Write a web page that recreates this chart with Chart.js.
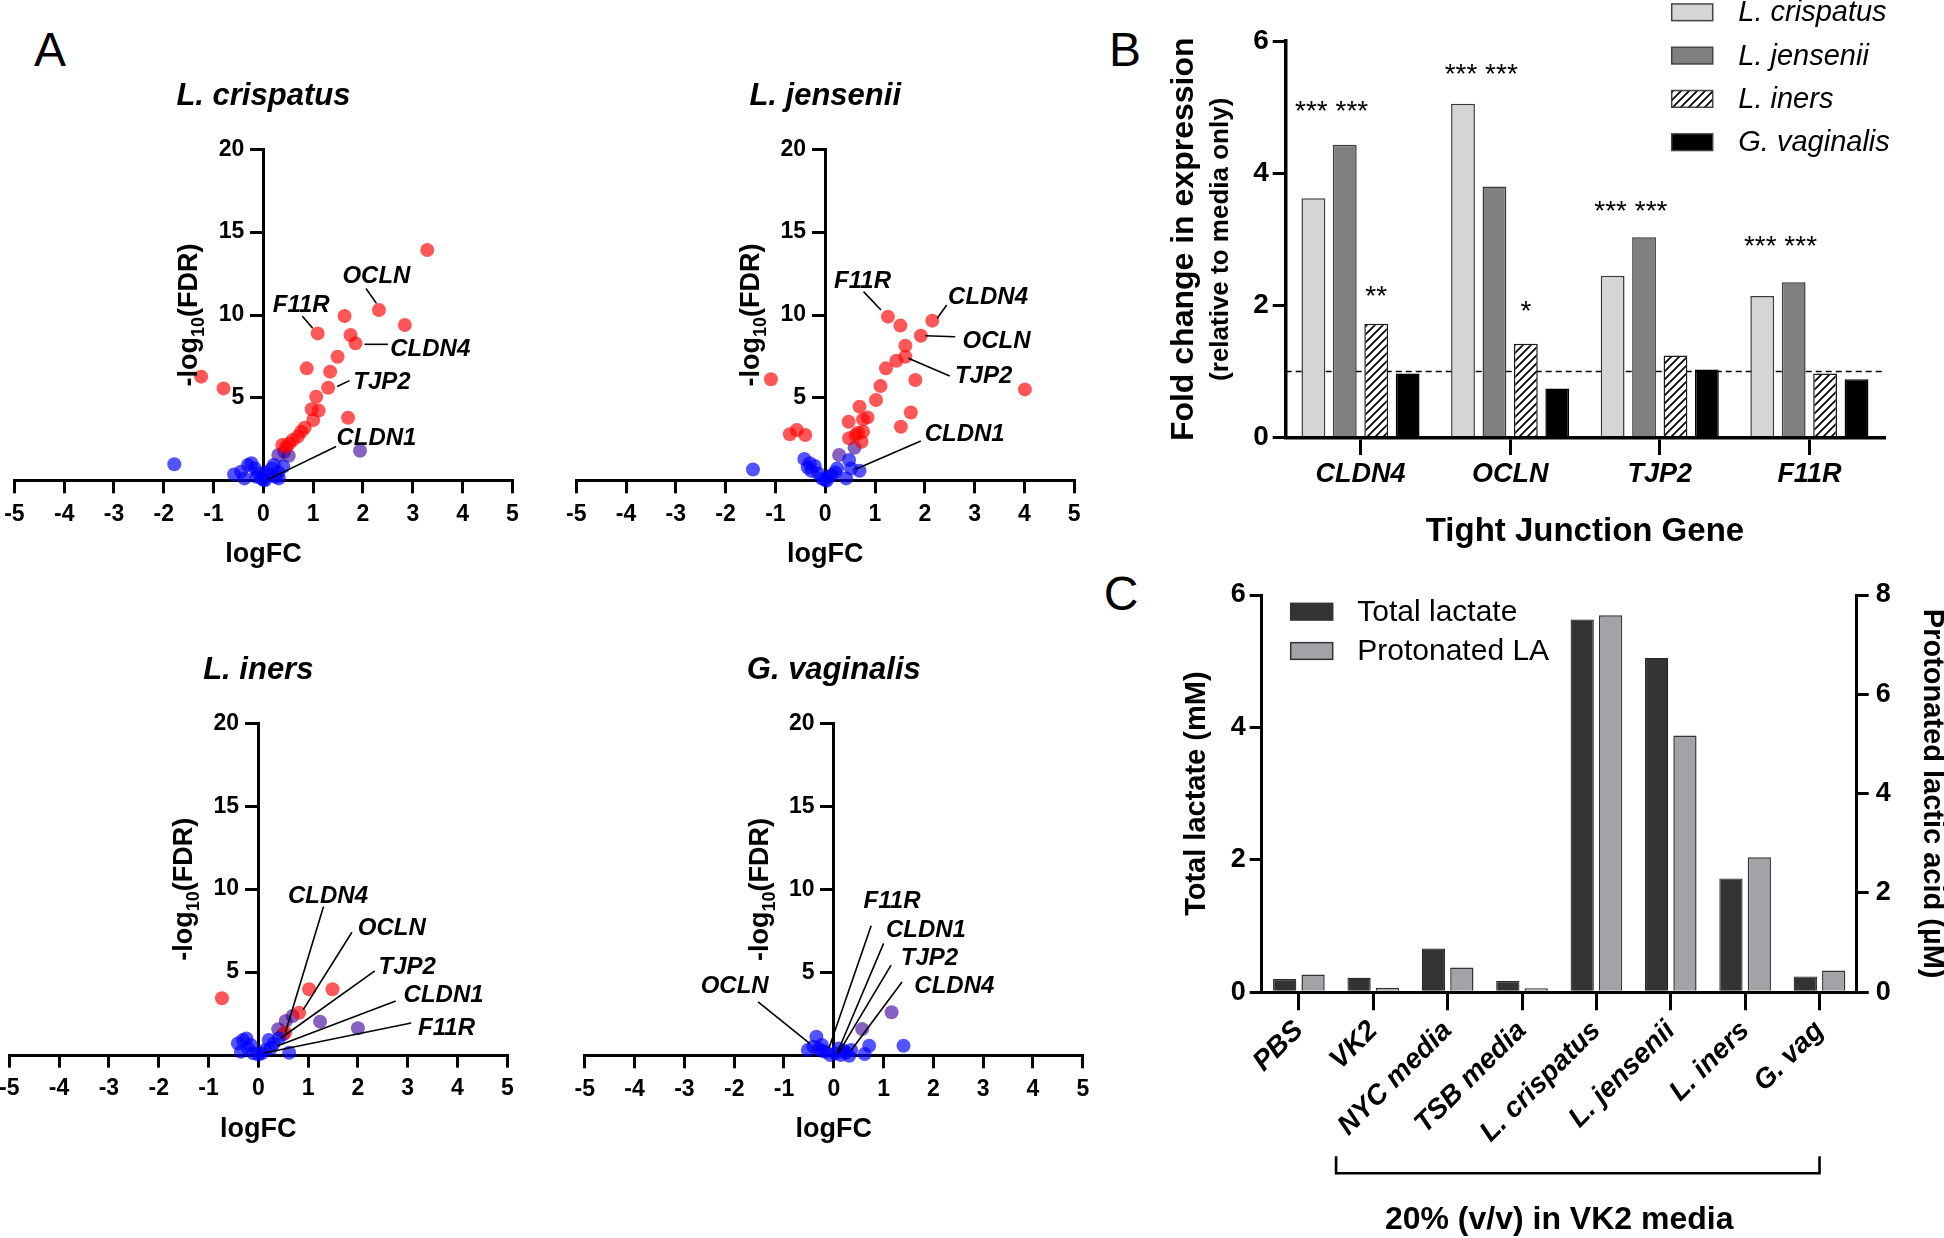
<!DOCTYPE html>
<html>
<head>
<meta charset="utf-8">
<script src="https://cdn.jsdelivr.net/npm/chart.js@4.4.1/dist/chart.umd.min.js"></script>
<style>
html,body{margin:0;padding:0;background:#fff;width:1944px;height:1238px;overflow:hidden;}
body{position:relative;font-family:'Liberation Sans',Arial,sans-serif;}
canvas{position:absolute;}
.plab{position:absolute;font-size:48px;line-height:1;transform:translate(-50%,-50%);color:#000;font-family:'Liberation Sans',Arial,sans-serif;}
</style>
</head>
<body>
<div class="plab" style="left:50px;top:50px">A</div>
<div class="plab" style="left:1125px;top:50px">B</div>
<div class="plab" style="left:1121px;top:594px">C</div>
<canvas id="v1"></canvas>
<canvas id="v2"></canvas>
<canvas id="v3"></canvas>
<canvas id="v4"></canvas>
<canvas id="cb"></canvas>
<canvas id="cc"></canvas>
<script>
// ---------------- DATA ----------------
// Panel A volcano plots: [logFC, -log10(FDR)]
const crispatusRed = [[3.29,13.92],[2.32,10.30],[1.63,9.94],[2.84,9.40],[1.09,8.89],[1.75,8.79],[1.85,8.29],[1.49,7.48],[0.87,6.78],[1.34,6.58],[1.30,5.61],[1.06,5.07],[0.97,4.31],[1.11,4.23],[1.00,3.66],[1.70,3.80],[0.83,3.20],[0.76,2.96],[0.69,2.66],[0.59,2.45],[0.52,2.25],[0.38,2.15],[0.46,2.05],[-1.25,6.28],[-0.80,5.57]];
const crispatusPurple = [[1.94,1.81],[0.30,1.55],[0.51,1.51],[0.42,1.75]];
const crispatusBlue = [[-1.79,0.99],[-0.59,0.38],[-0.38,0.14],[-0.31,0.95],[-0.24,1.05],[-0.17,0.74],[-0.10,0.44],[-0.03,0.14],[0.03,0.02],[0.10,0.34],[0.17,0.74],[0.24,0.24],[0.31,0.14],[0.40,0.85],[0.21,0.95],[-0.14,0.24],[0.00,0.05],[-0.45,0.54],[0.05,0.50],[0.30,0.50]];

const jenseniiRed = [[1.26,9.90],[1.51,9.36],[2.15,9.66],[1.92,8.75],[1.61,8.15],[1.61,7.48],[1.43,7.24],[1.22,6.78],[1.81,6.08],[1.11,5.71],[1.02,4.87],[4.01,5.51],[0.69,4.47],[1.72,4.12],[0.47,3.56],[0.76,3.70],[0.85,3.82],[1.52,3.26],[0.66,2.90],[0.76,2.96],[0.48,2.56],[0.61,2.76],[0.73,2.35],[-1.09,6.12],[-0.57,3.06],[-0.71,2.80],[-0.40,2.76]];
const jenseniiPurple = [[0.28,1.55],[0.59,1.99]];
const jenseniiBlue = [[-1.45,0.68],[-0.42,1.31],[-0.31,1.05],[-0.21,0.89],[-0.28,0.60],[-0.14,0.44],[-0.07,0.14],[0.03,0.00],[0.14,0.34],[0.24,0.74],[0.48,1.25],[0.52,0.74],[0.69,0.60],[0.42,0.14],[0.00,0.05],[0.07,0.24],[-0.35,0.80],[0.20,0.50]];

const inersRed = [[-0.73,3.42],[1.02,3.96],[1.49,3.96],[0.82,2.55],[0.54,1.35]];
const inersPurple = [[0.55,2.05],[0.69,2.35],[1.24,2.01],[2.00,1.61],[0.40,1.55],[0.50,1.25]];
const inersBlue = [[-0.31,0.90],[-0.24,1.00],[-0.35,0.20],[-0.21,0.40],[-0.10,0.10],[0.00,0.02],[0.07,0.10],[0.21,0.90],[0.31,0.70],[0.41,1.00],[0.62,0.14],[0.14,0.30],[-0.41,0.70],[0.25,0.40],[-0.15,0.60]];

const gvagRed = [];
const gvagPurple = [[1.16,2.61],[0.57,1.60]];
const gvagBlue = [[1.40,0.60],[0.71,0.60],[0.62,0.10],[-0.35,1.14],[-0.52,0.34],[-0.41,0.54],[-0.24,0.64],[-0.17,0.24],[-0.07,0.04],[0.03,0.14],[0.14,0.04],[0.24,0.18],[0.35,0.34],[0.31,0.00],[0.10,0.44],[-0.24,0.30],[0.20,0.30],[-0.30,0.40]];

// Gene callouts: [gene, textX, textY, lineX1, lineY1, lineX2, lineY2] in data units
const crispatusCallouts = [['OCLN',2.27,12.36,2.06,11.60,2.27,10.70],['F11R',0.76,10.57,0.78,9.94,0.99,9.20],['CLDN4',3.35,7.93,2.03,8.23,2.50,8.23],['TJP2',2.38,5.92,1.48,5.68,1.73,6.04],['CLDN1',2.27,2.56,1.46,2.06,0.10,0.08]];
const jenseniiCallouts = [['F11R',0.75,12.05,0.77,11.41,1.12,10.30],['CLDN4',3.27,11.06,2.25,9.80,2.44,10.60],['OCLN',3.44,8.39,2.01,8.75,2.61,8.69],['TJP2',3.18,6.28,1.67,7.39,2.50,6.32],['CLDN1',2.80,2.82,1.92,2.40,0.61,0.69]];
const inersCallouts = [['CLDN4',1.40,9.55,1.31,8.95,0.54,1.31],['OCLN',2.68,7.64,1.88,7.40,0.90,2.72],['TJP2',2.99,5.29,2.34,5.07,0.45,1.01],['CLDN1',3.72,3.62,2.76,3.26,0.38,0.55],['F11R',3.78,1.61,3.07,1.93,0.12,0.12]];
const gvagCallouts = [['OCLN',-1.99,4.15,-1.52,3.24,-0.48,0.73],['F11R',1.17,9.27,0.75,7.82,-0.10,0.44],['CLDN1',1.85,7.56,1.00,6.76,0.07,0.18],['TJP2',1.92,5.86,1.15,5.45,0.09,0.14],['CLDN4',2.42,4.15,1.37,4.44,0.35,0.33]];

const volcanoTitles = ['L. crispatus','L. jensenii','L. iners','G. vaginalis'];
const logFCTicks = [-5,-4,-3,-2,-1,0,1,2,3,4,5];

// Panel B
const genes = ['CLDN4','OCLN','TJP2','F11R'];
const speciesB = ['L. crispatus','L. jensenii','L. iners','G. vaginalis'];
const crispatusFC = [3.62,5.05,2.45,2.14];
const jenseniiFC = [4.43,3.80,3.03,2.35];
const inersFC = [1.72,1.42,1.24,0.97];
const gvagFC = [0.97,0.74,1.03,0.88];
const mediaOnlyLevel = 1;
// significance marks: [datasetIndices, geneIndex, text, height]
const starMarks = [[[0,1],0,'*** ***',5.05],[[2],0,'**',2.25],[[0,1],1,'*** ***',5.61],[[2],1,'*',2.03],[[0,1],2,'*** ***',3.54],[[0,1],3,'*** ***',3.01]];

// Panel C
const lactateGroups = ['PBS','VK2','NYC media','TSB media','L. crispatus','L. jensenii','L. iners','G. vag'];
const totalLactate = [0.20,0.22,0.66,0.17,5.63,5.05,1.72,0.24];      // mM
const protonatedLA = [0.36,0.09,0.50,0.08,7.59,5.17,2.72,0.44];      // µM

// ---------------- RENDER ----------------
const FF = "'Liberation Sans', Arial, sans-serif";
Chart.defaults.font.family = FF;
Chart.defaults.color = '#000';

const toPts = arr => arr.map(p => ({x:p[0], y:p[1]}));

const calloutPlugin = {
  id: 'callouts',
  afterDatasetsDraw(chart, args, opts) {
    if (!opts || !opts.items) return;
    const {ctx, scales:{x, y}} = chart;
    ctx.save();
    ctx.strokeStyle = '#000'; ctx.lineWidth = 1.6; ctx.fillStyle = '#000';
    ctx.font = 'italic bold 24px ' + FF;
    ctx.textAlign = 'center'; ctx.textBaseline = 'middle';
    for (const [name, tx, ty, x1, y1, x2, y2] of opts.items) {
      ctx.beginPath();
      ctx.moveTo(x.getPixelForValue(x1), y.getPixelForValue(y1));
      ctx.lineTo(x.getPixelForValue(x2), y.getPixelForValue(y2));
      ctx.stroke();
      ctx.fillText(name, x.getPixelForValue(tx), y.getPixelForValue(ty));
    }
    ctx.restore();
  }
};

const fdrTitlePlugin = {
  id: 'fdrTitle',
  afterDraw(chart, args, opts) {
    if (!opts || !opts.display) return;
    const {ctx, chartArea, scales:{x}} = chart;
    const cx = x.getPixelForValue(0) - opts.offset;
    const cy = (chartArea.top + chartArea.bottom) / 2;
    const big = 'bold 27px ' + FF, small = 'bold 18px ' + FF;
    const parts = [['-log', big, 0], ['10', small, 7], ['(FDR)', big, 0]];
    ctx.save();
    ctx.translate(cx, cy); ctx.rotate(-Math.PI/2);
    let total = 0;
    for (const p of parts) { ctx.font = p[1]; total += ctx.measureText(p[0]).width; }
    let px = -total/2;
    ctx.fillStyle = '#000'; ctx.textBaseline = 'alphabetic'; ctx.textAlign = 'left';
    for (const p of parts) { ctx.font = p[1]; ctx.fillText(p[0], px, 9.7 + p[2]); px += ctx.measureText(p[0]).width; }
    ctx.restore();
  }
};

const volcanoLayout = [
  {id:'v1', axisX:263.4, top:149.3, bottom:480.7, red:crispatusRed, purple:crispatusPurple, blue:crispatusBlue, callouts:crispatusCallouts},
  {id:'v2', axisX:825.2, top:149.3, bottom:480.7, red:jenseniiRed, purple:jenseniiPurple, blue:jenseniiBlue, callouts:jenseniiCallouts},
  {id:'v3', axisX:258.3, top:723.3, bottom:1055.0, red:inersRed, purple:inersPurple, blue:inersBlue, callouts:inersCallouts},
  {id:'v4', axisX:833.8, top:723.3, bottom:1055.7, red:gvagRed, purple:gvagPurple, blue:gvagBlue, callouts:gvagCallouts}
];
const HALFW = 249, PADX = 21, TOPM = 90, BOTM = 100;

volcanoLayout.forEach((L, i) => {
  const cv = document.getElementById(L.id);
  const left = Math.round(L.axisX - HALFW - PADX);
  const top = Math.round(L.top - TOPM);
  const w = 2*(HALFW + PADX);
  const h = Math.round(L.bottom - L.top + TOPM + BOTM);
  cv.width = w; cv.height = h;
  cv.style.left = left + 'px'; cv.style.top = top + 'px';
  cv.style.width = w + 'px'; cv.style.height = h + 'px';
  const padL = L.axisX - HALFW - left;
  const padR = w - padL - 2*HALFW;
  const chartTop = L.top - top;
  const xH = h - (L.bottom - top);
  new Chart(cv, {
    type: 'scatter',
    data: { datasets: [
      {label:'NS', data: toPts(L.blue), backgroundColor:'rgba(0,0,255,0.67)', borderWidth:0, pointRadius:7, clip:false},
      {label:'Sig', data: toPts(L.red), backgroundColor:'rgba(255,0,0,0.66)', borderWidth:0, pointRadius:7, clip:false},
      {label:'Tight junction', data: toPts(L.purple), backgroundColor:'rgba(60,0,155,0.62)', borderWidth:0, pointRadius:7, clip:false}
    ]},
    options: {
      responsive:false, animation:false, devicePixelRatio:1,
      layout: {padding: {left: padL, right: padR, top: 0, bottom: 0}},
      plugins: {
        legend: {display:false}, tooltip: {enabled:false},
        title: {display:true, text: volcanoTitles[i], color:'#000', font:{size:31, weight:'bold', style:'italic'},
                padding:{top: chartTop - 52.6 - 18.6, bottom: 52.6 - 18.6}},
        callouts: {items: L.callouts},
        fdrTitle: {display:true, offset:76}
      },
      scales: {
        x: {
          type:'linear', position:'bottom', min:-5, max:5,
          afterBuildTicks: s => { s.ticks = logFCTicks.map(v => ({value:v})); },
          ticks: {color:'#000', font:{size:23, weight:'bold'}, padding:7.5, autoSkip:false, maxRotation:0},
          grid: {display:true, drawOnChartArea:false, drawTicks:true, tickLength:12.6, lineWidth:3, color:'#000'},
          border: {display:true, color:'#000', width:3},
          title: {display:true, text:'logFC', color:'#000', font:{size:27, weight:'bold'}, padding:{top:0, bottom: 100 - 74.3 - 16.2}},
          afterFit: s => { s.height = xH; }
        },
        y: {
          type:'linear', position:{x:0}, min:0, max:20,
          ticks: {stepSize:5, color:'#000', font:{size:23, weight:'bold'}, padding:7, callback: v => v === 0 ? '' : v + '   '},
          grid: {display:true, drawOnChartArea:false, drawTicks:true, tickLength:12, lineWidth:3, color:'#000'},
          border: {display:true, color:'#000', width:3},
          afterFit: s => { s.width = 0; }
        }
      }
    },
    plugins: [calloutPlugin, fdrTitlePlugin]
  });
});

// ---- Panel B ----
function makeHatch() {
  const pc = document.createElement('canvas');
  pc.width = 8; pc.height = 8;
  const g = pc.getContext('2d');
  g.fillStyle = '#fff'; g.fillRect(0,0,8,8);
  g.strokeStyle = '#000'; g.lineWidth = 1.7;
  g.beginPath();
  g.moveTo(-1,9); g.lineTo(9,-1);
  g.moveTo(-5,5); g.lineTo(5,-5);
  g.moveTo(3,13); g.lineTo(13,3);
  g.stroke();
  return g.createPattern(pc, 'repeat');
}

const boxLegendPlugin = {
  id: 'boxLegend',
  afterDraw(chart, args, o) {
    if (!o || !o.display) return;
    const ctx = chart.ctx;
    ctx.save();
    chart.data.datasets.forEach((ds, i) => {
      const cy = o.y + i*o.step;
      ctx.fillStyle = ds.backgroundColor;
      ctx.fillRect(o.x, cy - o.h/2, o.w, o.h);
      ctx.strokeStyle = o.border; ctx.lineWidth = o.bw;
      ctx.strokeRect(o.x, cy - o.h/2, o.w, o.h);
      ctx.fillStyle = '#000'; ctx.font = o.font;
      ctx.textAlign = 'left'; ctx.textBaseline = 'middle';
      ctx.fillText(ds.label, o.tx, cy + 1);
    });
    ctx.restore();
  }
};

const refLinePlugin = {
  id: 'refLine',
  beforeDatasetsDraw(chart, args, o) {
    if (!o || o.value === undefined) return;
    const {ctx, chartArea, scales:{y}} = chart;
    const py = y.getPixelForValue(o.value);
    ctx.save();
    ctx.strokeStyle = '#000'; ctx.lineWidth = 1.6; ctx.setLineDash([6,4]);
    ctx.beginPath(); ctx.moveTo(chartArea.left, py); ctx.lineTo(chartArea.right, py); ctx.stroke();
    ctx.restore();
  }
};

const starPlugin = {
  id: 'stars',
  afterDatasetsDraw(chart, args, o) {
    if (!o || !o.items) return;
    const {ctx, scales:{y}} = chart;
    const fs = 28;
    ctx.save();
    ctx.fillStyle = '#000'; ctx.font = fs + 'px ' + FF;
    ctx.textAlign = 'center'; ctx.textBaseline = 'alphabetic';
    for (const [dsList, cat, txt, val] of o.items) {
      let sx = 0;
      for (const ds of dsList) sx += chart.getDatasetMeta(ds).data[cat].x;
      sx /= dsList.length;
      ctx.fillText(txt, sx + (dsList.length > 1 ? 2.5 : 0), y.getPixelForValue(val) + 0.58*fs);
    }
    ctx.restore();
  }
};

const twoLineYTitle = {
  id: 'twoLineYTitle',
  afterDraw(chart, args, o) {
    if (!o || !o.lines) return;
    const {ctx, chartArea} = chart;
    const cy = (chartArea.top + chartArea.bottom)/2;
    ctx.save();
    ctx.fillStyle = '#000'; ctx.textAlign = 'center'; ctx.textBaseline = 'middle';
    for (const [txt, x, font] of o.lines) {
      ctx.save(); ctx.translate(x, cy); ctx.rotate(-Math.PI/2);
      ctx.font = font; ctx.fillText(txt, 0, 0);
      ctx.restore();
    }
    ctx.restore();
  }
};

(function(){
  const cv = document.getElementById('cb');
  const left = 1140, top = 0, w = 804, h = 560;
  cv.width = w; cv.height = h;
  cv.style.left = left+'px'; cv.style.top = top+'px'; cv.style.width = w+'px'; cv.style.height = h+'px';
  const area = {l:1285.7 - left, r:1884.2 - left, t:41.1 - top, b:437.5 - top};
  const hatch = makeHatch();
  const seriesB = [crispatusFC, jenseniiFC, inersFC, gvagFC];
  const fills = ['#d5d5d5', '#808080', hatch, '#000000'];
  const borders = ['#3a3a3a', '#3a3a3a', '#1a1a1a', '#000000'];
  new Chart(cv, {
    type: 'bar',
    data: { labels: genes, datasets: seriesB.map((d, i) => ({
      label: speciesB[i], data: d, backgroundColor: fills[i], borderColor: borders[i], borderWidth: 1.5,
      categoryPercentage: 0.84, barPercentage: 0.758
    }))},
    options: {
      responsive:false, animation:false, devicePixelRatio:1,
      layout: {padding: {left:0, right: w - area.r, top: area.t, bottom:0}},
      plugins: {
        legend:{display:false}, tooltip:{enabled:false},
        boxLegend: {display:true, x:1671.7-left, y:12.3, step:43.3, w:41, h:16.7, tx:1738.3-left, font:'italic 29px ' + FF, border:'#444', bw:1.5},
        refLine: {value: mediaOnlyLevel},
        stars: {items: starMarks},
        twoLineYTitle: {lines: [['Fold change in expression', 1184 - left, 'bold 32px ' + FF], ['(relative to media only)', 1221 - left, 'bold 26px ' + FF]]}
      },
      scales: {
        x: {
          grid: {display:true, drawOnChartArea:false, offset:false, tickLength:17.5, lineWidth:3, color:'#000'},
          border: {display:true, color:'#000', width:3.5},
          ticks: {color:'#000', font:{size:27, weight:'bold', style:'italic'}, padding:3.8, autoSkip:false, maxRotation:0},
          title: {display:true, text:'Tight Junction Gene', color:'#000', font:{size:33, weight:'bold'}, padding:{top:0, bottom:8.2}},
          afterFit: s => { s.height = h - area.b; }
        },
        y: {
          min:0, max:6,
          ticks: {stepSize:2, color:'#000', font:{size:28, weight:'bold'}, padding:4},
          grid: {display:true, drawOnChartArea:false, tickLength:13, lineWidth:3, color:'#000'},
          border: {display:true, color:'#000', width:3.5},
          afterFit: s => { s.width = area.l; }
        }
      }
    },
    plugins: [boxLegendPlugin, refLinePlugin, starPlugin, twoLineYTitle]
  });
})();

// ---- Panel C ----
const bracketPlugin = {
  id: 'bracket',
  afterDraw(chart, args, o) {
    if (!o || o.from === undefined) return;
    const {ctx, chartArea, scales:{x}} = chart;
    const x1 = x.getPixelForValue(o.from), x2 = x.getPixelForValue(o.to);
    const yb = chartArea.bottom + o.drop;
    ctx.save();
    ctx.strokeStyle = '#000'; ctx.lineWidth = 2.6; ctx.lineJoin = 'miter';
    ctx.beginPath();
    ctx.moveTo(x1, yb - o.arm); ctx.lineTo(x1, yb); ctx.lineTo(x2, yb); ctx.lineTo(x2, yb - o.arm);
    ctx.stroke();
    ctx.restore();
  }
};

(function(){
  const cv = document.getElementById('cc');
  const left = 1100, top = 560, w = 844, h = 690;
  cv.width = w; cv.height = h;
  cv.style.left = left+'px'; cv.style.top = top+'px'; cv.style.width = w+'px'; cv.style.height = h+'px';
  const area = {l:1261.7 - left, r:1856.7 - left, t:595 - top, b:992.3 - top};
  new Chart(cv, {
    type: 'bar',
    data: { labels: lactateGroups, datasets: [
      {label:'Total lactate', data: totalLactate, yAxisID:'y', backgroundColor:'#333333', borderColor:'#262626', borderWidth:1.2, categoryPercentage:0.763, barPercentage:0.82},
      {label:'Protonated LA', data: protonatedLA, yAxisID:'y2', backgroundColor:'#a3a3a7', borderColor:'#333333', borderWidth:1.5, categoryPercentage:0.763, barPercentage:0.82}
    ]},
    options: {
      responsive:false, animation:false, devicePixelRatio:1,
      layout: {padding: {left:0, right:0, top: area.t, bottom:0}},
      plugins: {
        legend:{display:false}, tooltip:{enabled:false},
        boxLegend: {display:true, x:1290.7-left, y:611.7-top, step:39.3, w:42, h:16.7, tx:1357.3-left, font:'30px ' + FF, border:'#333', bw:1.5},
        bracket: {from:0.5, to:7, drop:181, arm:17}
      },
      scales: {
        x: {
          grid: {display:true, drawOnChartArea:false, offset:false, tickLength:18, lineWidth:3, color:'#000'},
          border: {display:true, color:'#000', width:3},
          ticks: {color:'#000', font:{size:28, weight:'bold', style:'italic'}, padding:4, autoSkip:false, minRotation:45, maxRotation:45},
          title: {display:true, text:'20% (v/v) in VK2 media', color:'#000', font:{size:32, weight:'bold'}, padding:{top:0, bottom:10.8}},
          afterFit: s => { s.height = h - area.b; }
        },
        y: {
          position:'left', min:0, max:6,
          ticks: {stepSize:2, color:'#000', font:{size:27, weight:'bold'}, padding:4},
          grid: {display:true, drawOnChartArea:false, tickLength:12, lineWidth:3, color:'#000'},
          border: {display:true, color:'#000', width:3},
          title: {display:true, text:'Total lactate (mM)', color:'#000', font:{size:29, weight:'bold'}, padding:{top:97 - 17.4, bottom:0}},
          afterFit: s => { s.width = area.l; }
        },
        y2: {
          position:'right', min:0, max:8,
          ticks: {stepSize:2, color:'#000', font:{size:27, weight:'bold'}, padding:7},
          grid: {display:true, drawOnChartArea:false, tickLength:12, lineWidth:3, color:'#000'},
          border: {display:true, color:'#000', width:3},
          title: {display:true, text:'Protonated lactic acid (µM)', color:'#000', font:{size:29, weight:'bold', lineHeight:0.8}, padding:{top:0.9, bottom:0}},
          afterFit: s => { s.width = w - area.r; }
        }
      }
    },
    plugins: [boxLegendPlugin, bracketPlugin]
  });
})();
</script>
</body>
</html>
